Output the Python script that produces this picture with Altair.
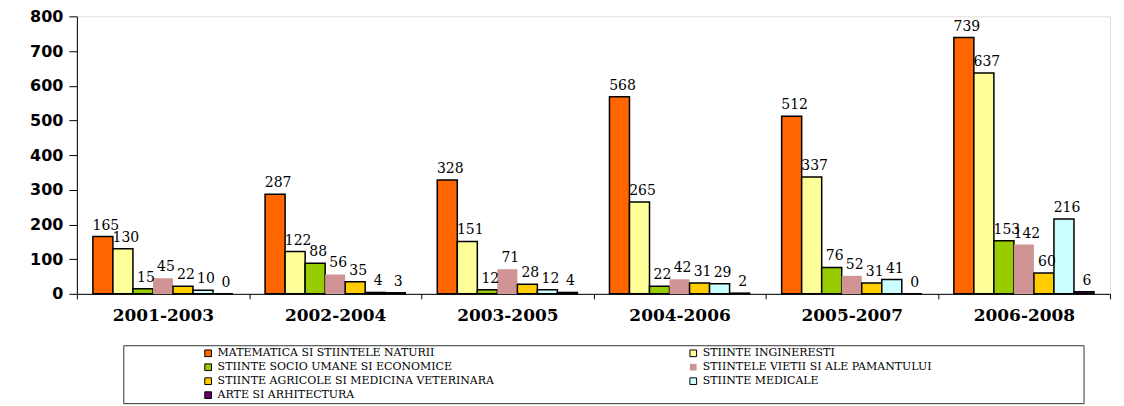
import altair as alt
import pandas as pd

periods = ["2001-2003", "2002-2004", "2003-2005", "2004-2006", "2005-2007", "2006-2008"]
series = [
    "MATEMATICA SI STIINTELE NATURII",
    "STIINTE INGINERESTI",
    "STIINTE SOCIO UMANE SI ECONOMICE",
    "STIINTELE VIETII SI ALE PAMANTULUI",
    "STIINTE AGRICOLE SI MEDICINA VETERINARA",
    "STIINTE MEDICALE",
    "ARTE SI ARHITECTURA",
]
matematica = [165, 287, 328, 568, 512, 739]
ingineresti = [130, 122, 151, 265, 337, 637]
socio_umane = [15, 88, 12, 22, 76, 153]
vietii = [45, 56, 71, 42, 52, 142]
agricole = [22, 35, 28, 31, 31, 60]
medicale = [10, 4, 12, 29, 41, 216]
arte = [0, 3, 4, 2, 0, 6]
y_ticks = [0, 100, 200, 300, 400, 500, 600, 700, 800]

colors = ["#FF6600", "#FFFF99", "#99CC00", "#D09494", "#FFCC00", "#CCFFFF", "#660066"]
strokes = ["black", "black", "black", "transparent", "black", "black", "black"]

all_values = [matematica, ingineresti, socio_umane, vietii, agricole, medicale, arte]
rows = []
for s, vals in zip(series, all_values):
    for p, v in zip(periods, vals):
        rows.append({"period": p, "series": s, "value": v})
df = pd.DataFrame(rows)

x_enc = alt.X("period:N", sort=periods, title=None,
              scale=alt.Scale(paddingInner=0, paddingOuter=0),
              axis=alt.Axis(labelAngle=0, labelFont="DejaVu Serif", labelFontSize=17,
                            labelFontWeight="bold", labelColor="black", labelPadding=9,
                            tickBand="extent", tickSize=5, tickColor="black",
                            domainColor="black", domainWidth=1))
xo_enc = alt.XOffset("series:N", sort=series,
                     scale=alt.Scale(domain=series, paddingInner=0, paddingOuter=0.8))
y_enc = alt.Y("value:Q", title=None,
              scale=alt.Scale(domain=[0, 800], nice=False),
              axis=alt.Axis(values=y_ticks, tickCount=20, grid=False, labelOverlap=False,
                            labelFont="DejaVu Sans",
                            labelFontSize=16, labelFontWeight="bold", labelColor="black",
                            labelPadding=6, tickSize=8, tickColor="black",
                            domainColor="black", domainWidth=1))

legend = alt.Legend(title=None, orient="none", legendX=126, legendY=332, columns=2,
                    direction="horizontal",
                    columnPadding=193, rowPadding=2, symbolType="square", symbolSize=45,
                    symbolStrokeWidth=1, labelFont="DejaVu Serif", labelFontSize=11,
                    labelColor="black", labelLimit=400, padding=0)

bars = alt.Chart(df).mark_bar(strokeWidth=1.5).encode(
    x=x_enc,
    xOffset=xo_enc,
    y=y_enc,
    fill=alt.Fill("series:N", sort=series,
                  scale=alt.Scale(domain=series, range=colors), legend=legend),
    stroke=alt.Stroke("series:N", sort=series,
                      scale=alt.Scale(domain=series, range=strokes), legend=legend),
)

labels = alt.Chart(df).mark_text(font="DejaVu Serif", fontSize=14, baseline="bottom",
                                 dy=-4, dx=3, color="black").encode(
    x=x_enc,
    xOffset=xo_enc,
    y=y_enc,
    text=alt.Text("value:Q"),
)

frame = alt.Chart(pd.DataFrame({"a": [0]})).mark_rect(
    fill="transparent", stroke="#333333", strokeWidth=1
).encode(x=alt.value(47), x2=alt.value(1009), y=alt.value(330), y2=alt.value(388))

chart = alt.layer(bars, labels, frame).properties(
    width=1035, height=278,
    padding={"left": 21, "top": 0, "right": 5, "bottom": 0},
).configure_view(stroke=None).configure(background="white")

chart.save("out.html", embed_options={"renderer": "svg", "actions": False})
